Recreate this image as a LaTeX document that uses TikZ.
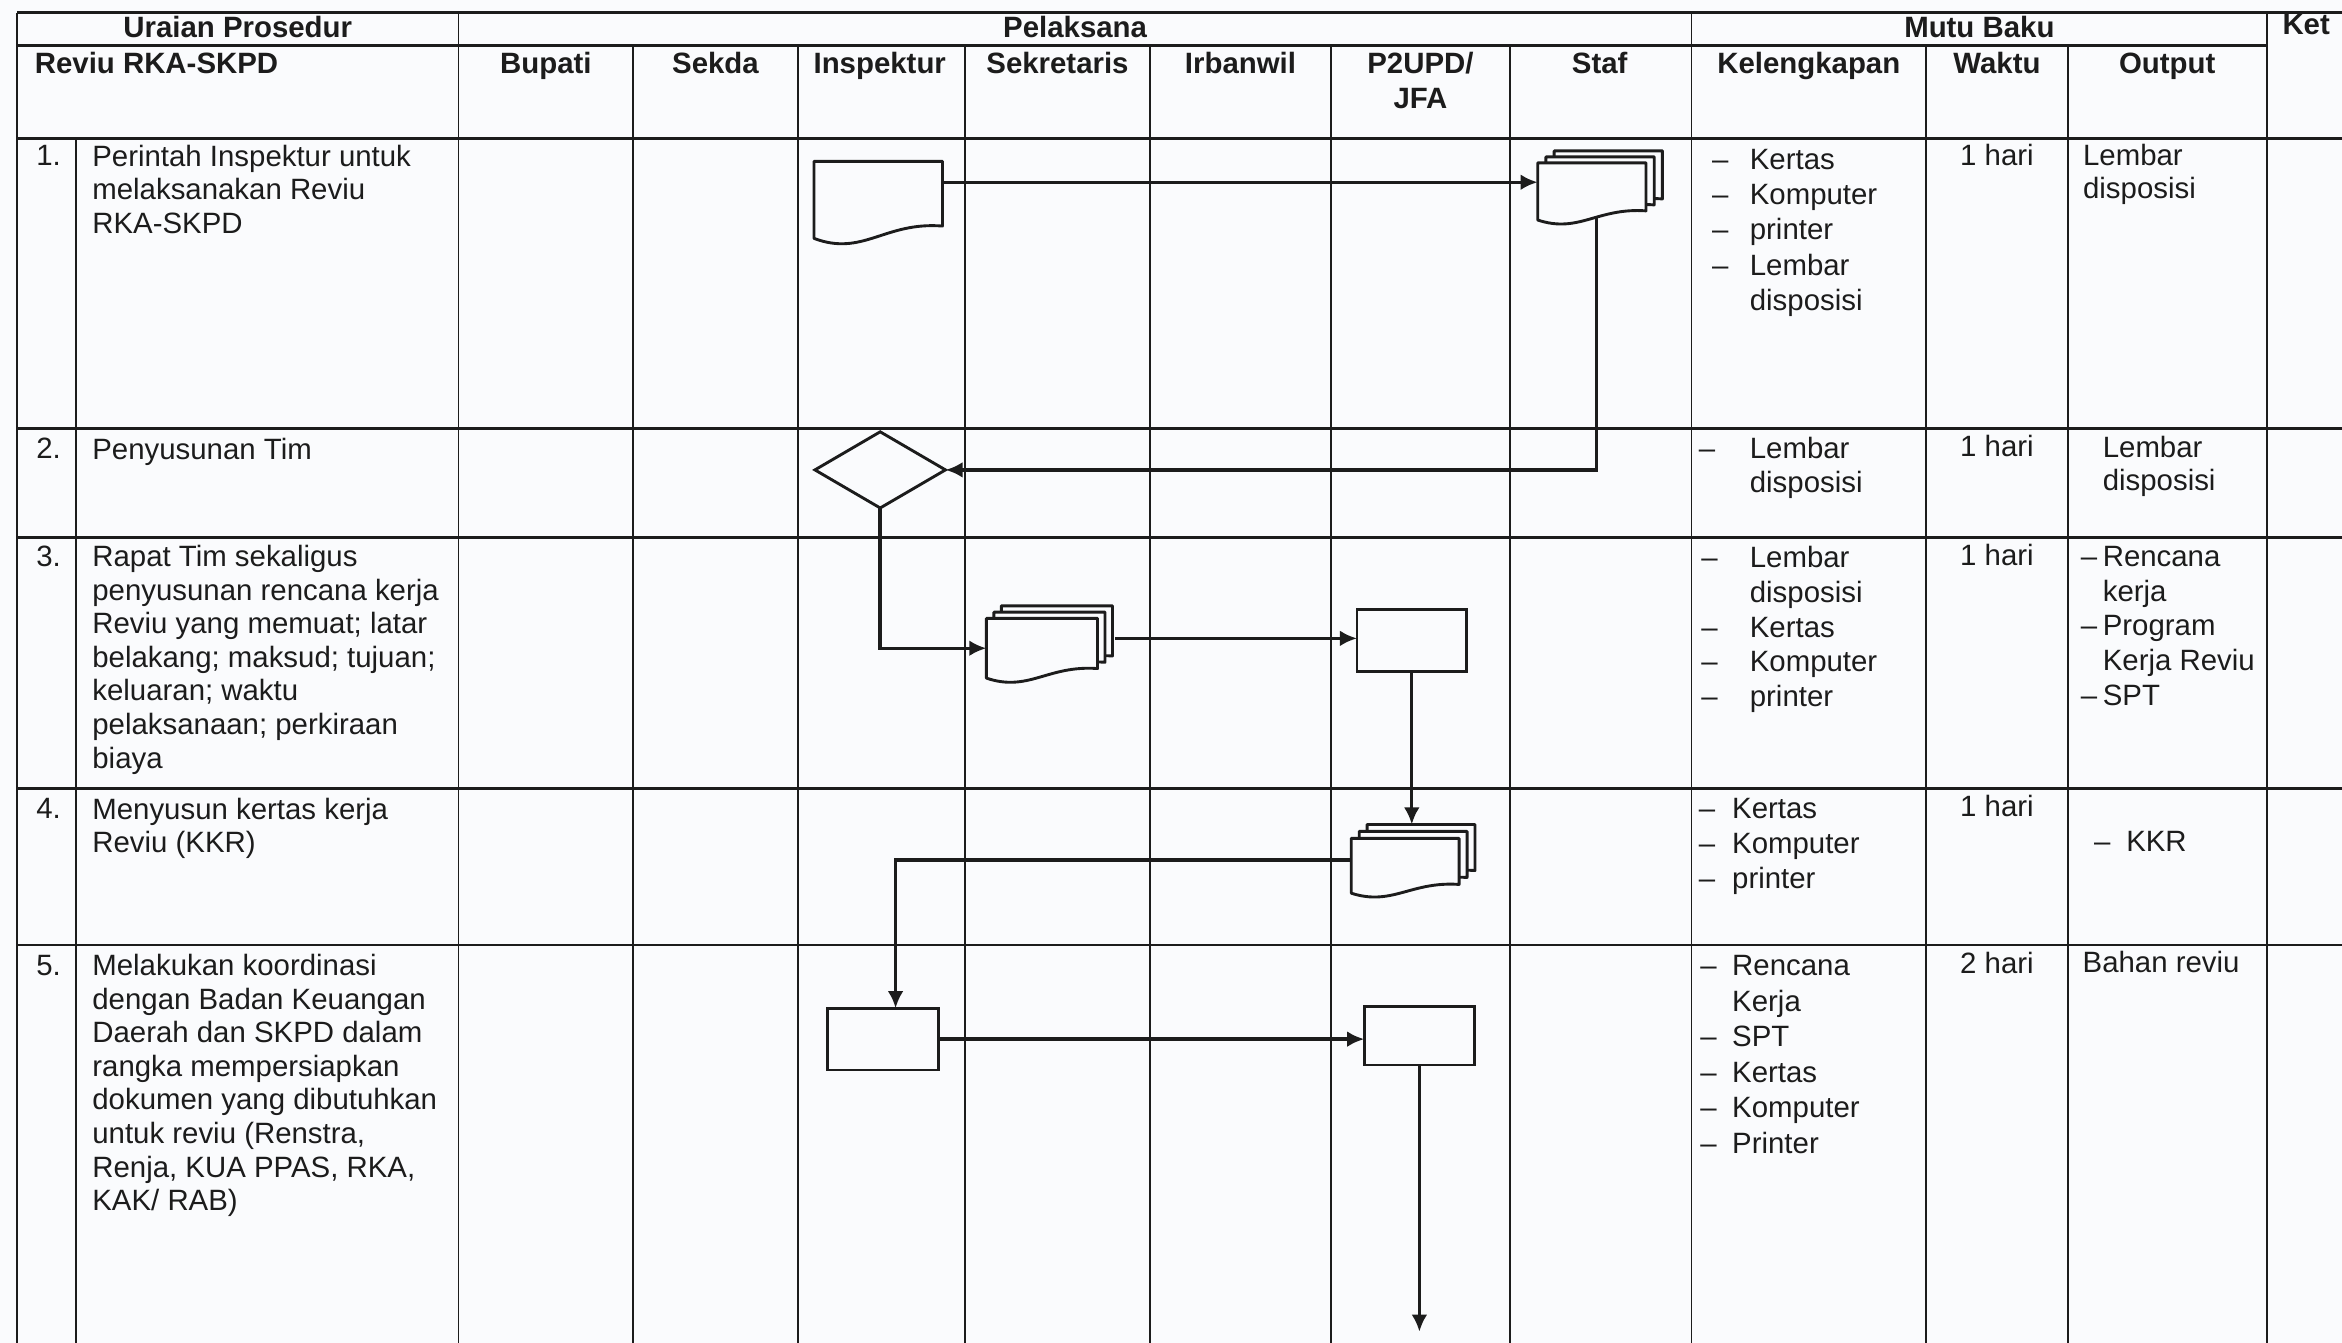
\documentclass[tikz,border=0pt]{standalone}
\usepackage{fontspec}
\setmainfont{Liberation Sans}
\usetikzlibrary{arrows.meta,calc,shapes.geometric}
\definecolor{bg}{RGB}{250,251,253}
\definecolor{ink}{RGB}{28,28,28}
\newcommand{\fsz}[1]{\fontsize{11.2pt}{#1}\selectfont}
\newcommand{\fst}{\rule{0pt}{9pt}}
\newcommand{\dsh}[1]{\makebox[#1][l]{–}}
\newcommand{\indt}[1]{\hspace*{#1}}
\newcommand{\docout}[3]{%
  \draw[shapeline] let \p1=($(#1.north west)+(#2,#3)$), \p2=($(#1.south east)+(#2,#3)$) in
   (\x1,\y1) -- (\x2,\y1) -- (\x2,{\y1+0.84*(\y2-\y1)})
   .. controls ({\x1+0.55*(\x2-\x1)},{\y1+0.78*(\y2-\y1)}) and ({\x1+0.38*(\x2-\x1)},{\y1+1.24*(\y2-\y1)}) .. (\x1,\y2) -- cycle;}
\tikzset{
  gridh/.style={line width=1.1pt, draw=ink},
  gridv/.style={line width=0.7pt, draw=ink},
  hd/.style={font=\bfseries\fsz{12.8pt}, text=ink, inner sep=0pt, anchor=base},
  txtcell/.style={anchor=north west, inner sep=0pt, align=left, text=ink},
  numtxt/.style={anchor=base west, inner sep=0pt, text=ink, font=\fsz{12.8pt}},
  ctrtxt/.style={anchor=base, inner sep=0pt, text=ink, font=\fsz{12.8pt}},
  docbox/.style 2 args={inner sep=0pt, outer sep=0pt, minimum width=#1*0.02cm, minimum height=#2*0.02cm},
  procbox/.style 2 args={rectangle, draw=ink, fill=bg, line width=1.1pt, inner sep=0pt, outer sep=0pt, minimum width=#1*0.02cm, minimum height=#2*0.02cm},
  decbox/.style 2 args={diamond, draw=ink, fill=bg, line width=1.1pt, inner sep=0pt, outer sep=0pt, minimum width=#1*0.02cm, minimum height=#2*0.02cm},
  flowarrow/.style={line width=1.3pt, draw=ink, -{Latex[length=6.5pt,width=6pt]}},
  shapeline/.style={line width=1.1pt, draw=ink, fill=bg, line join=round}
}
\begin{document}
\begin{tikzpicture}[x=0.02cm,y=-0.02cm]
\path[use as bounding box, fill=bg] (0,0) rectangle (1568,899);

% ---------- table grid ----------
\draw[gridh] (11.5,8.5) -- (1568,8.5);
\draw[gridh] (11.5,30.2) -- (1518,30.2);
\foreach \yy in {92.8,286.8,359.8,527.8,632.7} \draw[gridh] (11.5,\yy) -- (1568,\yy);
\foreach \xx in {11.5,307,1132.5,1518} \draw[gridv] (\xx,8.5) -- (\xx,899);
\foreach \xx in {424,534,646,770,891,1011,1289.5,1384.5} \draw[gridv] (\xx,30.2) -- (\xx,899);
\draw[gridv] (51,92.8) -- (51,899);

% ---------- headers ----------
\node[hd] (hUraian) at (159.2,25) {Uraian Prosedur};
\node[hd] (hPel) at (719.8,25) {Pelaksana};
\node[hd] (hMutu) at (1325.2,25) {Mutu Baku};
\node[hd] (hKet) at (1544,23) {Ket};
\node[hd, anchor=base west] (hReviu) at (23,49) {Reviu RKA-SKPD};
\node[hd] (hBup) at (365.5,49) {Bupati};
\node[hd] (hSek) at (479,49) {Sekda};
\node[hd] (hIns) at (589,49) {Inspektur};
\node[hd] (hSekr) at (708,49) {Sekretaris};
\node[hd] (hIrb) at (830.5,49) {Irbanwil};
\node[hd, anchor=north, align=center, font=\bfseries\fsz{13.1pt}] (hP2) at (951,33.2) {\fst P2UPD/\\JFA};
\node[hd] (hStaf) at (1071,49) {Staf};
\node[hd] (hKel) at (1211,49) {Kelengkapan};
\node[hd] (hWak) at (1337,49) {Waktu};
\node[hd] (hOut) at (1451,49) {Output};

% ---------- numbers ----------
\node[numtxt] (n1) at (24,111) {1.};
\node[numtxt] (n2) at (24,307) {2.};
\node[numtxt] (n3) at (24,379) {3.};
\node[numtxt] (n4) at (24,548) {4.};
\node[numtxt] (n5) at (24,652.8) {5.};

% ---------- uraian ----------
\node[txtcell, font=\fsz{12.8pt}] (u1) at (61.5,95.2) {\fst Perintah Inspektur untuk\\melaksanakan Reviu\\RKA-SKPD};
\node[txtcell, font=\fsz{12.8pt}] (u2) at (61.5,291.2) {\fst Penyusunan Tim};
\node[txtcell, font=\fsz{12.8pt}] (u3) at (61.5,363.2) {\fst Rapat Tim sekaligus\\penyusunan rencana kerja\\Reviu yang memuat; latar\\belakang; maksud; tujuan;\\keluaran; waktu\\pelaksanaan; perkiraan\\biaya};
\node[txtcell, font=\fsz{12.8pt}] (u4) at (61.5,532.2) {\fst Menyusun kertas kerja\\Reviu (KKR)};
\node[txtcell, font=\fsz{12.8pt}] (u5) at (61.5,637) {\fst Melakukan koordinasi\\dengan Badan Keuangan\\Daerah dan SKPD dalam\\rangka mempersiapkan\\dokumen yang dibutuhkan\\untuk reviu (Renstra,\\Renja, KUA PPAS, RKA,\\KAK/ RAB)};

% ---------- kelengkapan ----------
\node[txtcell, font=\fsz{13.4pt}] (k1) at (1146,97.4) {\fst\dsh{0.504cm}Kertas\\\dsh{0.504cm}Komputer\\\dsh{0.504cm}printer\\\dsh{0.504cm}Lembar\\\indt{0.504cm}disposisi};
\node[txtcell, font=\fsz{12.7pt}] (k2) at (1137,291.1) {\fst\dsh{0.684cm}Lembar\\\indt{0.684cm}disposisi};
\node[txtcell, font=\fsz{13.3pt}] (k3) at (1138.7,363.6) {\fst\dsh{0.65cm}Lembar\\\indt{0.65cm}disposisi\\\dsh{0.65cm}Kertas\\\dsh{0.65cm}Komputer\\\dsh{0.65cm}printer};
\node[txtcell, font=\fsz{13.3pt}] (k4) at (1137,532.1) {\fst\dsh{0.448cm}Kertas\\\dsh{0.448cm}Komputer\\\dsh{0.448cm}printer};
\node[txtcell, font=\fsz{13.55pt}] (k5) at (1138,637) {\fst\dsh{0.428cm}Rencana\\\indt{0.428cm}Kerja\\\dsh{0.428cm}SPT\\\dsh{0.428cm}Kertas\\\dsh{0.428cm}Komputer\\\dsh{0.428cm}Printer};

% ---------- waktu ----------
\node[ctrtxt] (w1) at (1337,110.5) {1 hari};
\node[ctrtxt] (w2) at (1337,305.8) {1 hari};
\node[ctrtxt] (w3) at (1337,378.3) {1 hari};
\node[ctrtxt] (w4) at (1337,546.8) {1 hari};
\node[ctrtxt] (w5) at (1337,651.7) {2 hari};

% ---------- output ----------
\node[txtcell, font=\fsz{12.7pt}] (o1) at (1394.3,94.7) {\fst Lembar\\disposisi};
\node[txtcell, font=\fsz{12.7pt}] (o2) at (1407.5,290) {\fst Lembar\\disposisi};
\node[txtcell, font=\fsz{13.2pt}] (o3) at (1392.8,363.2) {\fst\dsh{0.294cm}Rencana\\\indt{0.294cm}kerja\\\dsh{0.294cm}Program\\\indt{0.294cm}Kerja Reviu\\\dsh{0.294cm}SPT};
\node[numtxt] (o4) at (1401.7,570.2) {\dsh{0.43cm}KKR};
\node[numtxt] (o5) at (1394,651) {Bahan reviu};

% ---------- flowchart symbols ----------
\node[docbox={86}{51.6}] (d1) at (588,133.8) {};
\node[docbox={72.5}{38.3}] (m1) at (1065.75,128.15) {};
\node[docbox={74.4}{40}] (m2) at (697.6,434) {};
\node[docbox={72.2}{36.7}] (m3) at (940.8,579.65) {};
\node[decbox={87.4}{51}] (dia) at (589.3,314.6) {};
\node[procbox={73.3}{41.3}] (r1) at (945.2,429) {};
\node[procbox={74.4}{41.4}] (r2) at (591.2,695.7) {};
\node[procbox={73.8}{39}] (r3) at (950.3,693.5) {};

% ---------- connectors ----------
\coordinate (c1) at ($(d1.north east)+(0,14)$);
\draw[flowarrow] (c1) -- (c1 -| m1.west);
\draw[flowarrow] ($(m1.center)+(3,0)$) |- (dia.east);
\draw[flowarrow] (dia.south) |- (m2.west);
\coordinate (c2) at ($(m2.north east)+(12,13.4)$);
\draw[flowarrow] (c2) -- (c2 -| r1.west);
\coordinate (c3) at ($(m3.north)+(0,-9.3)$);
\draw[flowarrow] (r1.south) -- (r1.south |- c3);
\coordinate (c4) at ($(m3.north west)+(0,14.5)$);
\coordinate (c5) at ($(r2.north)+(8.4,0)$);
\draw[flowarrow] (c4) -| (c5);
\draw[flowarrow] (r2.east) -- (r2.east -| r3.west);
\coordinate (cEnd) at (949,891.6);
\draw[flowarrow] (r3.south) -- (r3.south |- cEnd);

% ---------- document outlines ----------
\docout{d1}{0}{0}
\docout{m1}{11}{-8}
\docout{m1}{5.5}{-4}
\docout{m1}{0}{0}
\docout{m2}{10}{-8.4}
\docout{m2}{5}{-4.2}
\docout{m2}{0}{0}
\docout{m3}{10.6}{-9.3}
\docout{m3}{5.3}{-4.65}
\docout{m3}{0}{0}
\end{tikzpicture}
\end{document}
